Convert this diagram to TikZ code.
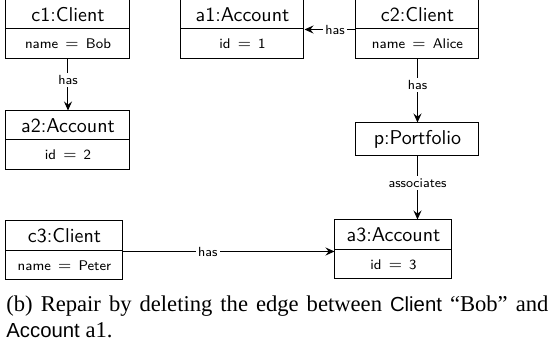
\documentclass[tikz,border=0pt]{standalone}
\usepackage{fontspec}
\setmainfont{Liberation Serif}
\newfontfamily\capsans[Scale=0.9]{Liberation Sans}
\usetikzlibrary{arrows.meta}
\newcommand{\attr}[2]{#1\hspace{3.6pt}{\fontsize{8}{9}\selectfont$=$}\hspace{3.6pt}#2}
\begin{document}
\begin{tikzpicture}[x=0.5pt,y=-0.5pt,
  box/.style={draw, line width=0.5pt, inner sep=0pt, minimum height=14.5pt},
  ttl/.style={box, font=\sffamily\fontsize{10}{12}\selectfont},
  att/.style={box, minimum height=15pt, font=\sffamily\fontsize{7}{8}\selectfont},
  arr/.style={line width=0.5pt, -{Stealth[length=4.5pt,width=4pt,inset=1.6pt]}},
  lbl/.style={fill=white, inner sep=1.2pt, font=\sffamily\fontsize{6.6}{8}\selectfont}]
\useasboundingbox (0,0) rectangle (554,351);
% c1
\node[ttl, minimum width=62pt] (c1t) at (68,14.5) {c1:Client};
\node[att, minimum width=62pt] (c1a) at (68,44) {\attr{name}{Bob}};
% a1
\node[ttl, minimum width=61.5pt] (a1t) at (242.5,14.5) {a1:Account};
\node[att, minimum width=61.5pt] (a1a) at (242.5,44) {\attr{id}{1}};
% c2
\node[ttl, minimum width=61.5pt] (c2t) at (417.5,14.5) {c2:Client};
\node[att, minimum width=61.5pt] (c2a) at (417.5,44) {\attr{name}{Alice}};
% a2
\node[ttl, minimum width=62pt] (a2t) at (68,125.5) {a2:Account};
\node[att, minimum width=62pt] (a2a) at (68,155) {\attr{id}{2}};
% p
\node[ttl, minimum width=61.5pt, minimum height=16.5pt] (p) at (417.5,139.5) {p:Portfolio};
% c3
\node[ttl, minimum width=58.5pt, minimum height=15pt] (c3t) at (64.5,236) {c3:Client};
\node[att, minimum width=58.5pt, minimum height=14.5pt] (c3a) at (64.5,265.5) {\attr{name}{Peter}};
% a3
\node[ttl, minimum width=58.5pt, minimum height=15pt] (a3t) at (393.5,235) {a3:Account};
\node[att, minimum width=58.5pt, minimum height=14.5pt] (a3a) at (393.5,264.5) {\attr{id}{3}};
% connectors
\draw[arr] (c1a.south) -- node[lbl, pos=0.4] {has} (a2t.north);
\draw[arr] (c2t.south west) -- node[lbl, pos=0.4] {has} (a1t.south east);
\draw[arr] (c2a.south) -- node[lbl, pos=0.4] {has} (p.north);
\draw[arr] (p.south) -- node[lbl, pos=0.42] {associates} (p.south |- a3t.north);
\draw[arr] (c3t.south east) -- node[lbl, pos=0.4] {has} (c3t.south east -| a3t.west);
% caption
\node[anchor=base west, inner sep=0pt, font=\fontsize{11.3}{13}\selectfont] (cap1) at (6,312)
  {\makebox[271pt][s]{(b) Repair by deleting the edge between {\capsans Client} ``Bob'' and}};
\node[anchor=base west, inner sep=0pt, font=\fontsize{11.3}{13}\selectfont] (cap2) at (6,338)
  {{\capsans Account} a1.};
\end{tikzpicture}
\end{document}
